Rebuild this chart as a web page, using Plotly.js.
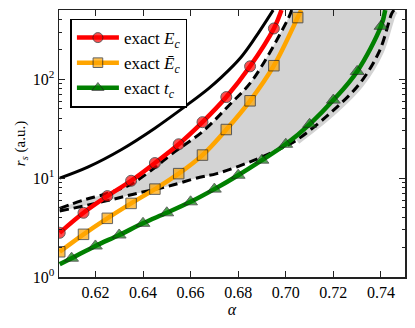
<!DOCTYPE html>
<html>
<head>
<meta charset="utf-8">
<script src="https://cdn.plot.ly/plotly-3.0.1.min.js"></script>
<style>
  html, body { margin: 0; padding: 0; background: #fff; }
  #chart { width: 415px; height: 328px; }
</style>
</head>
<body>
<div id="chart"></div>
<script>
// exact E_c (red circles)
const alphaE = [0.605, 0.615, 0.625, 0.635, 0.645, 0.655, 0.665, 0.675, 0.685, 0.695];
const rsE = [2.8, 4.46, 6.58, 9.4, 14.2, 22, 36.8, 66, 135, 326];
const endE = [0.6982, 500];

// exact E-bar_c (orange squares)
const alphaEbar = [0.605, 0.615, 0.625, 0.635, 0.645, 0.655, 0.665, 0.675, 0.685, 0.695, 0.705];
const rsEbar = [1.8, 2.7, 3.92, 5.55, 7.74, 11.1, 17.1, 31, 60.5, 137, 420];
const endEbar = [0.7065, 500];

// exact t_c (green triangles)
const alphaT = [0.61, 0.62, 0.63, 0.64, 0.65, 0.66, 0.67, 0.68, 0.69, 0.70, 0.71, 0.72, 0.73, 0.74];
const rsT = [1.55, 2.06, 2.66, 3.49, 4.46, 5.76, 7.74, 10.7, 15.2, 22, 35, 61.5, 120, 343];
const startT = [0.605, 1.35];
const endT = [0.7418, 500];

// black solid curve
const alphaSolid = [0.605, 0.617, 0.631, 0.645, 0.659, 0.6674, 0.673, 0.681, 0.687, 0.6947];
const rsSolid = [10.0, 13.0, 19.5, 32, 56, 80, 105, 165, 260, 500];

// dashed bounds of the shaded region
const alphaUpper = [0.605, 0.615, 0.625, 0.635, 0.645, 0.652, 0.665, 0.676, 0.686, 0.701, 0.7025];
const rsUpper = [4.95, 6.0, 7.0, 8.7, 12.8, 17.5, 29.5, 54, 98, 410, 500];
const alphaLower = [0.605, 0.6261, 0.6373, 0.65, 0.6639, 0.671, 0.685, 0.699, 0.7045, 0.7185, 0.7311, 0.7395, 0.7445, 0.7455];
const rsLower = [4.64, 6.0, 7.0, 8.2, 10.2, 11.1, 14.6, 20.5, 24.2, 45, 90.6, 196, 460, 500];

const yTickVals = [1, 10, 100];
const yTickText = ['10<sup>0</sup>', '10<sup>1</sup>', '10<sup>2</sup>'];
const yMinorVals = [2, 3, 4, 5, 6, 7, 8, 9, 20, 30, 40, 50, 60, 70, 80, 90, 200, 300, 400, 500];

const serif = 'Liberation Serif';
const edge = '#222';

function withEnds(xs, ys, start, end) {
    const x = xs.slice(), y = ys.slice(), s = xs.map(() => 1);
    if (start) { x.unshift(start[0]); y.unshift(start[1]); s.unshift(0); }
    if (end) { x.push(end[0]); y.push(end[1]); s.push(0); }
    return { x, y, s };
}

const e = withEnds(alphaE, rsE, null, endE);
const eb = withEnds(alphaEbar, rsEbar, null, endEbar);
const t = withEnds(alphaT, rsT, startT, endT);

const tailIdx = alphaLower.findIndex(a => a >= 0.7045);

const traces = [
    {   // shaded region between the dashed bounds
        x: alphaUpper.concat(alphaLower.slice().reverse()),
        y: rsUpper.concat(rsLower.slice().reverse()),
        mode: 'lines', fill: 'toself', fillcolor: '#d3d3d3',
        line: { width: 0, color: '#d3d3d3', shape: 'spline' },
        showlegend: false, hoverinfo: 'skip'
    },
    {   // soft band outside the lower bound on the right
        x: alphaLower.slice(tailIdx), y: rsLower.slice(tailIdx),
        mode: 'lines', line: { width: 9, color: '#d3d3d3', shape: 'spline' },
        showlegend: false, hoverinfo: 'skip'
    },
    {
        x: alphaUpper, y: rsUpper, mode: 'lines',
        line: { color: '#000', width: 3, dash: '9px,5px', shape: 'spline' },
        showlegend: false
    },
    {
        x: alphaLower, y: rsLower, mode: 'lines',
        line: { color: '#000', width: 3, dash: '9px,5px', shape: 'spline' },
        showlegend: false
    },
    {
        x: alphaSolid, y: rsSolid, mode: 'lines',
        line: { color: '#000', width: 3, shape: 'spline' },
        showlegend: false
    },
    {
        x: t.x, y: t.y, mode: 'lines+markers', name: 'exact <i>t<sub>c</sub></i>',
        line: { color: '#008000', width: 4.5, shape: 'spline' },
        marker: { symbol: 'triangle-up', size: t.s.map(v => v ? 12 : 0), color: '#008000', line: { color: edge, width: 1 } },
        legendrank: 3
    },
    {
        x: eb.x, y: eb.y, mode: 'lines+markers', name: 'exact <i>Ē<sub>c</sub></i>',
        line: { color: '#ffa500', width: 4.5, shape: 'spline' },
        marker: { symbol: 'square', size: eb.s.map(v => v ? 10.5 : 0), color: '#ffa500', line: { color: edge, width: 1 } },
        legendrank: 2
    },
    {
        x: e.x, y: e.y, mode: 'lines+markers', name: 'exact <i>E<sub>c</sub></i>',
        line: { color: '#ff0000', width: 4.5, shape: 'spline' },
        marker: { symbol: 'circle', size: e.s.map(v => v ? 11 : 0), color: '#ff0000', line: { color: edge, width: 1 } },
        legendrank: 1
    }
];

const layout = {
    width: 415, height: 328,
    margin: { l: 59, r: 10, t: 10, b: 51 },
    paper_bgcolor: '#fff', plot_bgcolor: '#fff',
    font: { family: serif, size: 16, color: '#000' },
    showlegend: true,
    legend: {
        x: 0.033, y: 0.968, xanchor: 'left', yanchor: 'top',
        bgcolor: '#fff', bordercolor: '#000', borderwidth: 1.5,
        font: { family: serif, size: 17 },
        itemwidth: 42,
        traceorder: 'normal'
    },
    xaxis: {
        range: [0.6047, 0.7501],
        tick0: 0.62, dtick: 0.02, tickformat: '.2f',
        ticks: 'inside', ticklen: 6, tickcolor: edge,
        showline: true, linecolor: edge, linewidth: 1.5, mirror: 'allticks',
        showgrid: false, zeroline: false,
        title: { text: '<i>α</i>', font: { family: serif, size: 16 }, standoff: 2 }
    },
    yaxis: {
        type: 'log', range: [0, 2.7],
        tickmode: 'array', tickvals: yTickVals, ticktext: yTickText,
        ticks: 'inside', ticklen: 6, tickcolor: edge,
        minor: { tickmode: 'array', tickvals: yMinorVals, ticks: 'inside', ticklen: 3, tickcolor: edge, showgrid: false },
        showline: true, linecolor: edge, linewidth: 1.5, mirror: 'allticks',
        showgrid: false, zeroline: false,
        title: { text: '<i>r<sub>s</sub></i> (a.u.)', font: { family: serif, size: 15 }, standoff: 3 }
    }
};

Plotly.newPlot('chart', traces, layout, { staticPlot: true, displayModeBar: false });
</script>
</body>
</html>
